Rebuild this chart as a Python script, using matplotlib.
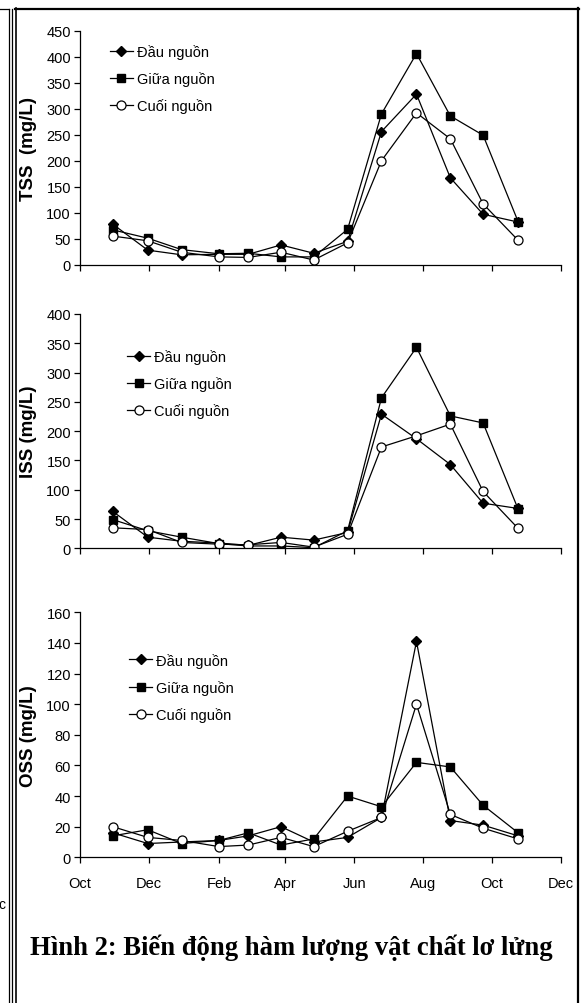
import numpy as np
import matplotlib
matplotlib.use('Agg')
import matplotlib.pyplot as plt
import matplotlib.dates as mdates
from matplotlib.lines import Line2D

plt.rcParams['font.family'] = ['Liberation Sans', 'DejaVu Sans']

# ngày lấy mẫu
dates = np.array(['2005-10-30', '2005-11-30', '2005-12-30', '2006-02-01', '2006-02-27',
                  '2006-03-28', '2006-04-26', '2006-05-26', '2006-06-25', '2006-07-26',
                  '2006-08-25', '2006-09-23', '2006-10-24'], dtype='datetime64[D]')
tick_dates = np.array(['2005-10-01', '2005-12-01', '2006-02-01', '2006-04-01',
                       '2006-06-01', '2006-08-01', '2006-10-01', '2006-12-01'], dtype='datetime64[D]')

series_names = ['Đầu nguồn', 'Giữa nguồn', 'Cuối nguồn']

tss_dau = [78, 28, 19, 20, 20, 38, 22, 45, 256, 328, 167, 97, 82]
tss_giua = [67, 51, 29, 21, 22, 15, 15, 68, 290, 406, 286, 249, 83]
tss_cuoi = [55, 46, 24, 15, 14, 24, 9, 42, 200, 292, 242, 117, 47]

iss_dau = [63, 19, 12, 9, 5, 19, 14, 27, 229, 187, 143, 77, 68]
iss_giua = [49, 30, 19, 8, 4, 4, 1, 30, 257, 343, 226, 214, 67]
iss_cuoi = [35, 32, 10, 7, 6, 10, 2, 24, 173, 192, 212, 97, 34]

oss_dau = [16, 9, 10, 11, 14, 20, 10, 13, 26, 141, 24, 21, 14]
oss_giua = [14, 18, 9, 11, 16, 8, 12, 40, 33, 62, 59, 34, 16]
oss_cuoi = [20, 13, 11, 7, 8, 13, 7, 17, 26, 100, 28, 19, 12]

W, H = 581, 1004
fig = plt.figure(figsize=(W / 100, H / 100), dpi=100)

# (y trên, y dưới) theo pixel, giới hạn trục y, nhãn, vị trí chú thích
panels = [
    (31.7, 265.7, 450, 50, 'TSS  (mg/L)', (tss_dau, tss_giua, tss_cuoi), (0.062, 0.943)),
    (315.0, 549.3, 400, 50, 'ISS (mg/L)', (iss_dau, iss_giua, iss_cuoi), (0.098, 0.851)),
    (613.3, 858.3, 160, 20, 'OSS (mg/L)', (oss_dau, oss_giua, oss_cuoi), (0.102, 0.835)),
]

styles = [
    dict(marker='D', markersize=5, markerfacecolor='black', markeredgecolor='black'),
    dict(marker='s', markersize=6, markerfacecolor='black', markeredgecolor='black'),
    dict(marker='o', markersize=6.5, markerfacecolor='white', markeredgecolor='black', markeredgewidth=0.9),
]

left = 80 / W
width = 481 / W
for i, (ytop, ybot, ymax, ystep, label, data, leg_pos) in enumerate(panels):
    ax = fig.add_axes([left, 1 - ybot / H, width, (ybot - ytop) / H])
    for vals, name, st in zip(data, series_names, styles):
        ax.plot(dates, vals, color='black', linewidth=0.9, label=name, **st)
    ax.set_ylim(0, ymax)
    ax.set_yticks(np.arange(0, ymax + 1, ystep))
    ax.set_xlim(tick_dates[0], tick_dates[-1])
    ax.set_xticks(tick_dates)
    if i == 2:
        ax.xaxis.set_major_formatter(mdates.DateFormatter('%b'))
    else:
        ax.set_xticklabels([])
    for s in ['top', 'right']:
        ax.spines[s].set_visible(False)
    for s in ['left', 'bottom']:
        ax.spines[s].set_linewidth(0.9)
    ax.tick_params(direction='out', length=4.5, width=0.9, labelsize=10.5, pad=2)
    ax.tick_params(axis='x', pad=9)
    ax.set_ylabel(label, fontsize=13.5, fontweight='bold')
    ax.yaxis.set_label_coords(-0.089, 0.5)
    ax.legend(loc='upper left', bbox_to_anchor=leg_pos, frameon=False, fontsize=10.5,
              borderpad=0, borderaxespad=0, handlelength=1.6, handletextpad=0.25,
              labelspacing=0.85)

# khung trang
def hline(y, x0, x1, lw):
    fig.add_artist(Line2D([x0 / W, x1 / W], [1 - y / H, 1 - y / H], color='black',
                          linewidth=lw, transform=fig.transFigure))

def vline(x, y0, y1, lw):
    fig.add_artist(Line2D([x / W, x / W], [1 - y0 / H, 1 - y1 / H], color='black',
                          linewidth=lw, transform=fig.transFigure))

hline(10, 15, 578.5, 1.6)
vline(578, 9, H, 1.6)
vline(16, 9, H, 1.2)
hline(10, 0, 8.5, 0.9)
vline(8.5, 9.5, H, 0.9)
vline(11.5, 9.5, H, 0.9)

fig.text(-2 / W, 1 - 905 / H, 'c', fontsize=10, va='center', ha='left')

fig.text(30 / W, 1 - 955 / H, 'Hình 2: Biến động hàm lượng vật chất lơ lửng',
         family='Liberation Serif', fontweight='bold', fontsize=19.2, va='baseline', ha='left')

fig.savefig('out.png', dpi=100)
